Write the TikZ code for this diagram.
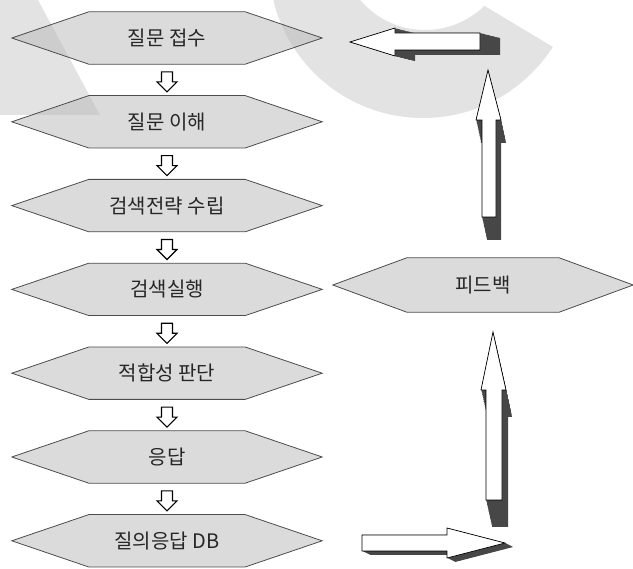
\documentclass[tikz,border=0pt]{standalone}
\usepackage{fontspec}
\newfontfamily\kr{Noto Sans CJK KR}
\usetikzlibrary{calc,backgrounds}
\tikzset{
  wm/.style={fill=black!11},
  hexbox/.style={minimum width=310pt, minimum height=52pt, inner sep=0pt,
    font=\kr\fontsize{20pt}{24pt}\selectfont, text=black!85},
  hexshape/.style={fill=black!28, fill opacity=0.5, draw=black!70, line width=0.8pt, line join=miter},
  smallarr/.style={draw=black, line width=1.1pt, fill=white, line join=miter},
  face/.style={draw=black, line width=0.7pt, fill=white, line join=miter},
  shadowc/.style={fill=black!72},
}
\newcommand\hexa[2]{%
  \path[hexshape] (#1.west) -- ($(#1.north west)+(#2,0)$) -- ($(#1.north east)+(-#2,0)$)
    -- (#1.east) -- ($(#1.south east)+(-#2,0)$) -- ($(#1.south west)+(#2,0)$) -- cycle;}
\newcommand\downarr[1]{%
  \draw[smallarr, shift={(#1)}] (-5.5,-9) -- (5.5,-9) -- (5.5,1) -- (10,1) -- (0,11)
    -- (-10,1) -- (-5.5,1) -- cycle;}
\newcommand\threedarr[3]{%
  \foreach \k in {0,...,16} {\fill[shadowc, shift={(\k*#2/16,\k*#3/16)}] #1;}
  \draw[face] #1;}
\begin{document}
\begin{tikzpicture}[x=1pt,y=-1pt]
\useasboundingbox (0,0) rectangle (633,569);
\node[hexbox] (b1) at (167,38) {질문 접수};
\node[hexbox] (b2) at (167,121.8) {질문 이해};
\node[hexbox] (b3) at (167,205.6) {검색전략 수립};
\node[hexbox] (b4) at (167,289.4) {검색실행};
\node[hexbox] (b5) at (167,373.2) {적합성 판단};
\node[hexbox] (b6) at (167,457) {응답};
\node[hexbox] (b7) at (167,540.8) {질의응답 DB};
\node[hexbox, minimum width=300pt, minimum height=54pt] (fb) at (483,285) {피드백};

\begin{scope}[on background layer]
  \fill[wm] (0,0) -- (38,0) -- (100,115) -- (0,115) -- cycle;
  \begin{scope}
    \clip (0,0) -- (474.7,0) -- (633,95) -- (633,569) -- (0,569) -- cycle;
    \fill[wm, even odd rule] (423,-36) circle[radius=154pt] (425,-55) circle[radius=85pt];
  \end{scope}
  \foreach \n in {b1,b2,b3,b4,b5,b6,b7} {\hexa{\n}{77}}
  \hexa{fb}{74}
\end{scope}

\foreach \a/\b in {b1/b2,b2/b3,b3/b4,b4/b5,b5/b6,b6/b7} {
  \coordinate (m\a) at ($(\a.south)!0.5!(\b.north)+(0,1)$);
  \downarr{m\a}
}

% feedback loop block arrows
\threedarr{(362,535) -- (447,535) -- (447,528) -- (505,543) -- (447,558) -- (447,551) -- (362,551) -- cycle}{8}{4}
\threedarr{(493,332) -- (506,390) -- (502,390) -- (502,500) -- (486,500) -- (486,390) -- (481,390) -- cycle}{6}{27}
\threedarr{(488,70) -- (501,120) -- (496,120) -- (496,217) -- (482,217) -- (482,120) -- (476,120) -- cycle}{5}{23}
\threedarr{(350,42) -- (395,28) -- (395,33) -- (480,33) -- (480,50) -- (395,50) -- (395,56) -- cycle}{20}{5}
\end{tikzpicture}
\end{document}
